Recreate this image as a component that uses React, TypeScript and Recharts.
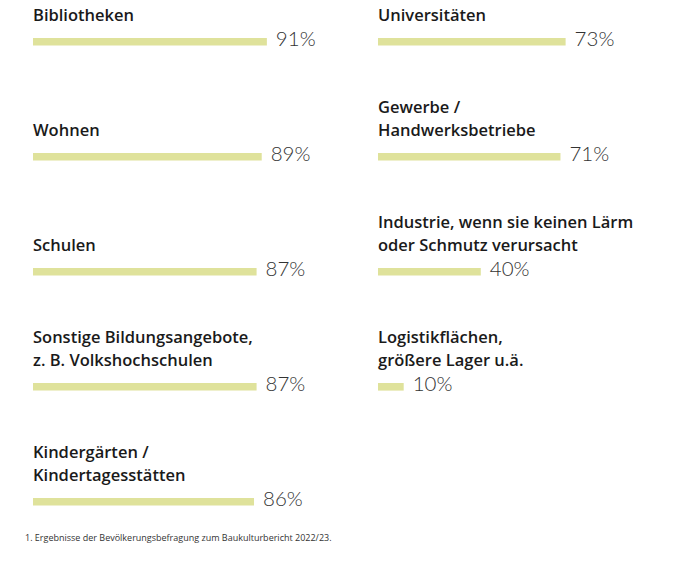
import React from "react";
import { BarChart, Bar, XAxis, YAxis, LabelList } from "recharts";

const leftLabels: string[][] = [
  ["Bibliotheken"],
  ["Wohnen"],
  ["Schulen"],
  ["Sonstige Bildungsangebote,", "z. B. Volkshochschulen"],
  ["Kindergärten /", "Kindertagesstätten"],
];
const leftValues: number[] = [91, 89, 87, 87, 86];

const rightLabels: string[][] = [
  ["Universitäten"],
  ["Gewerbe /", "Handwerksbetriebe"],
  ["Industrie, wenn sie keinen Lärm", "oder Schmutz verursacht"],
  ["Logistikflächen,", "größere Lager u.ä."],
];
const rightValues: number[] = [73, 71, 40, 10];

const footnote = "1. Ergebnisse der Bevölkerungsbefragung zum Baukulturbericht 2022/23.";

const BAR_COLOR = "#dfe29b";
const LABEL_FONT = "'Open Sans', Lato, sans-serif";
const VALUE_FONT = "Lato, 'Open Sans', sans-serif";

function makeData(labels: string[][], values: number[]) {
  return labels.map((lines, i) => ({ name: lines.join(" "), lines, value: values[i] }));
}

const CategoryLabel = (props: any) => {
  const { x, y, index, data } = props;
  const lines: string[] = data[index].lines;
  const n = lines.length;
  return (
    <g>
      {lines.map((line, i) => (
        <text
          key={i}
          x={x}
          y={y - 17.5 - (n - 1 - i) * 22.5}
          fontFamily={LABEL_FONT}
          fontWeight={600}
          fontSize={16.5}
          fill="#1a1a1a"
        >
          {line}
        </text>
      ))}
    </g>
  );
};

const ValueLabel = (props: any) => {
  const { x, y, width, height, value } = props;
  return (
    <text
      x={x + width + 9}
      y={y + height + 0.5}
      fontFamily={VALUE_FONT}
      fontWeight={300}
      fontSize={20.5}
      fill="#333333"
    >
      {value}%
    </text>
  );
};

function Column({ labels, values, left }: { labels: string[][]; values: number[]; left: number }) {
  const data = makeData(labels, values);
  return (
    <div style={{ position: "absolute", left, top: -16 }}>
      <BarChart
        width={345}
        height={labels.length * 115}
        data={data}
        layout="vertical"
        margin={{ top: 0, right: 55, bottom: 0, left: 33 }}
      >
        <XAxis type="number" domain={[0, 100]} hide />
        <YAxis type="category" dataKey="name" hide />
        <Bar dataKey="value" fill={BAR_COLOR} barSize={7.6} isAnimationActive={false}>
          <LabelList dataKey="value" content={(p: any) => <CategoryLabel {...p} data={data} />} />
          <LabelList dataKey="value" content={(p: any) => <ValueLabel {...p} />} />
        </Bar>
      </BarChart>
    </div>
  );
}

export default function App() {
  return (
    <div
      style={{
        position: "absolute",
        left: 0,
        top: 0,
        width: 690,
        height: 564,
        background: "#ffffff",
        overflow: "hidden",
      }}
    >
      <Column labels={leftLabels} values={leftValues} left={0} />
      <Column labels={rightLabels} values={rightValues} left={345} />
      <svg width={690} height={564} style={{ position: "absolute", left: 0, top: 0, pointerEvents: "none" }}>
        <text x={25} y={541} fontFamily={LABEL_FONT} fontSize={9} fill="#333333">
          {footnote}
        </text>
      </svg>
    </div>
  );
}
